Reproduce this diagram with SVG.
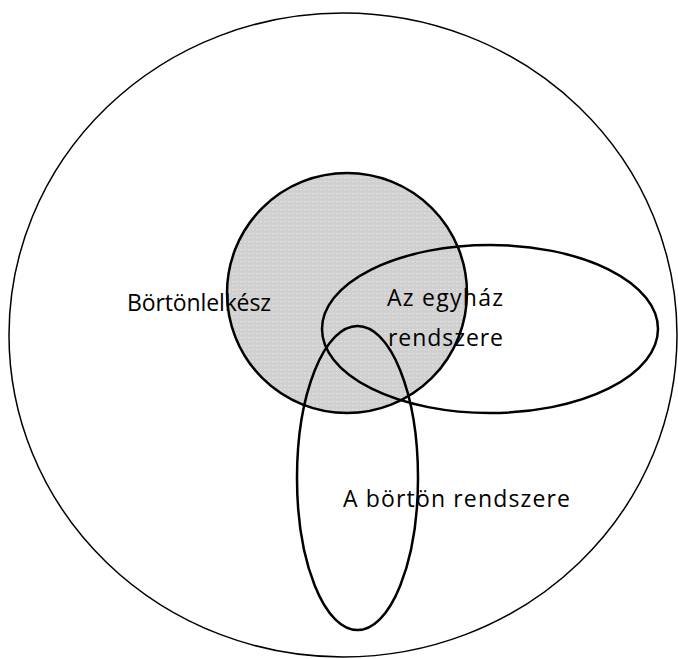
<svg xmlns="http://www.w3.org/2000/svg" width="678" height="659" viewBox="0 0 678 659">
<style>
.lbl{font-family:"Open Sans","Liberation Sans",sans-serif;font-size:23px;fill:#000}
.ln{fill:none;stroke:#000;stroke-width:2.5}
</style>
<defs>
<pattern id="dots" width="4" height="4" patternUnits="userSpaceOnUse">
<rect width="4" height="4" fill="#d0d0d0"/>
<rect x="0" y="1" width="2" height="1" fill="#e2e2e2"/>
</pattern>
</defs>
<rect width="678" height="659" fill="#fff"/>
<g id="world"><ellipse cx="343" cy="335" rx="334" ry="322" fill="none" stroke="#000" stroke-width="1.5"/></g>
<g id="lelkesz"><circle cx="347" cy="293" r="120" fill="url(#dots)" stroke="#000" stroke-width="2.5"/><text class="lbl" x="127" y="311" textLength="144">Börtönlelkész</text></g>
<g id="egyhaz"><ellipse class="ln" cx="490" cy="329" rx="168" ry="84"/><text class="lbl" x="387" y="306" textLength="116">Az egyház</text><text class="lbl" x="388" y="346" textLength="115">rendszere</text></g>
<g id="borton"><ellipse class="ln" cx="357.5" cy="478" rx="60.5" ry="152"/><text class="lbl" x="343" y="507" textLength="227">A börtön rendszere</text></g>
<g id="connectors"></g>
</svg>
